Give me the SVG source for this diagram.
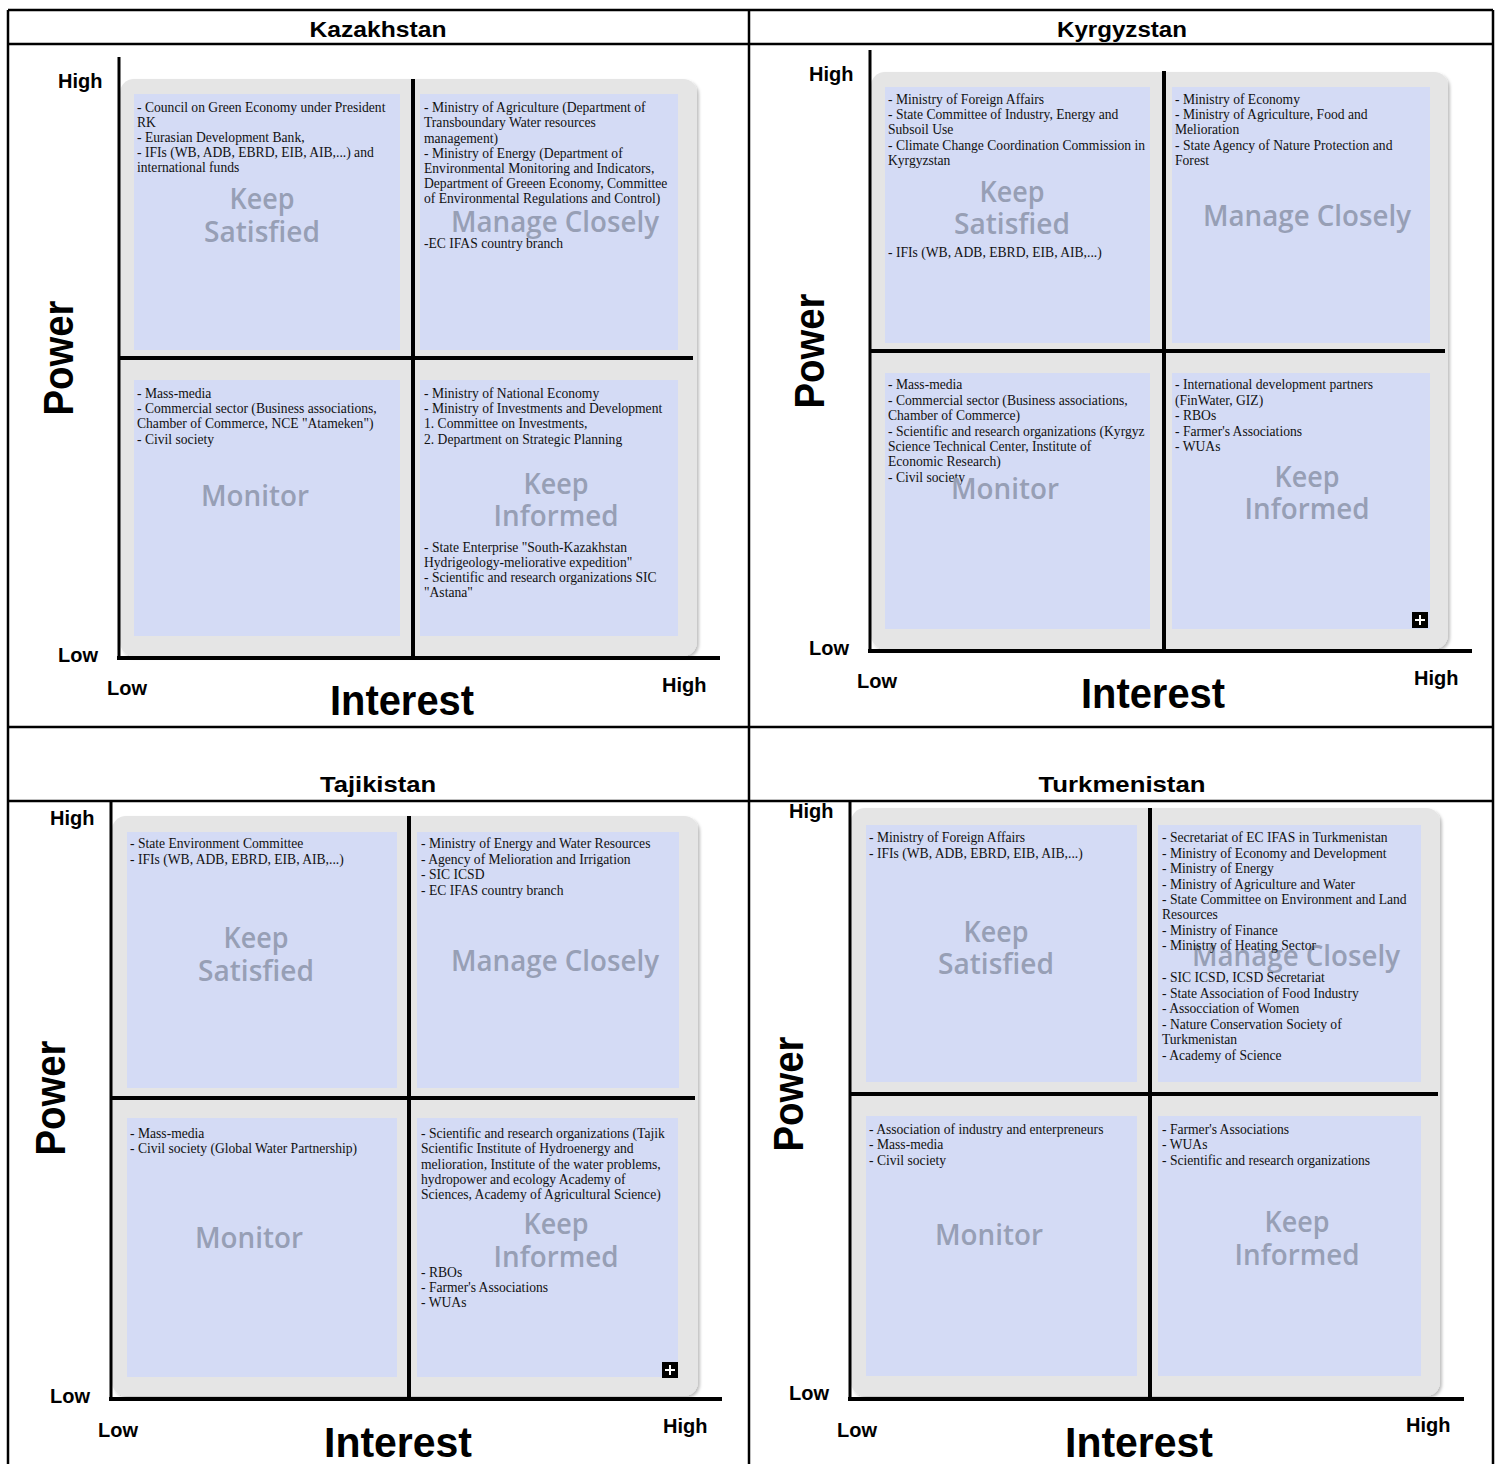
<svg xmlns="http://www.w3.org/2000/svg" width="1501" height="1464" viewBox="0 0 1501 1464">
<style>
.t{font-family:"Liberation Serif","Times New Roman",serif;font-size:13.6px;fill:#111}
.big{font-family:"Open Sans","Noto Sans",sans-serif;font-weight:600;font-size:29px;fill:#979fb5;text-anchor:middle}
.ax{font-family:"Liberation Sans",Arial,sans-serif;font-weight:bold;font-size:20px;fill:#000}
.axl{font-family:"Liberation Sans",Arial,sans-serif;font-weight:bold;font-size:42px;fill:#000;text-anchor:middle}
.ttl{font-family:"Liberation Sans",Arial,sans-serif;font-weight:bold;font-size:22px;fill:#000;text-anchor:middle}
.bg{fill:#e5e5e5}
.q{fill:#d4dbf5}
.ln{stroke:#000;stroke-width:4;fill:none}
.ya{stroke:#000;stroke-width:3;fill:none}
.tb{stroke:#000;stroke-width:2.5;fill:none}
</style>
<defs>
<filter id="sh" x="-5%" y="-5%" width="110%" height="110%"><feDropShadow dx="2" dy="2" stdDeviation="1.5" flood-color="#000" flood-opacity="0.25"/></filter>
<g id="plus"><rect width="16" height="16" fill="#000"/><path d="M8 3V13M3 8H13" stroke="#fff" stroke-width="2"/></g>
</defs>
<rect width="1501" height="1464" fill="#fff"/>
<g id="table">
<path class="tb" d="M8 10H1493M8 44H1493M8 727H1493M8 801H1493M8 10V1464M749 10V1464M1493 10V1464"/>
</g>
<!-- Kazakhstan -->
<g id="kazakhstan">
<text class="ttl" x="378" y="37" textLength="137" lengthAdjust="spacingAndGlyphs">Kazakhstan</text>
<rect class="bg" x="120" y="79" width="577" height="577" rx="14" filter="url(#sh)"/>
<g id="kz-tl"><rect class="q" x="134" y="94" width="266" height="256"/>
<text class="t" x="137" y="112">- Council on Green Economy under President</text>
<text class="t" x="137" y="127">RK</text>
<text class="t" x="137" y="142">- Eurasian Development Bank,</text>
<text class="t" x="137" y="157">- IFIs (WB, ADB, EBRD, EIB, AIB,...) and</text>
<text class="t" x="137" y="172">international funds</text>
<text class="big" x="262" y="209" textLength="65" lengthAdjust="spacingAndGlyphs">Keep</text>
<text class="big" x="262" y="242" textLength="116" lengthAdjust="spacingAndGlyphs">Satisfied</text></g>
<g id="kz-tr"><rect class="q" x="420" y="94" width="258" height="256"/>
<text class="t" x="424" y="112">- Ministry of Agriculture (Department of</text>
<text class="t" x="424" y="127">Transboundary Water resources</text>
<text class="t" x="424" y="143">management)</text>
<text class="t" x="424" y="158">- Ministry of Energy (Department of</text>
<text class="t" x="424" y="173">Environmental Monitoring and Indicators,</text>
<text class="t" x="424" y="188">Department of Greeen Economy, Committee</text>
<text class="t" x="424" y="203">of Environmental Regulations and Control)</text>
<text class="big" x="555" y="232" textLength="208" lengthAdjust="spacingAndGlyphs">Manage Closely</text>
<text class="t" x="424" y="248">-EC IFAS country branch</text></g>
<g id="kz-bl"><rect class="q" x="134" y="380" width="266" height="256"/>
<text class="t" x="137" y="398">- Mass-media</text>
<text class="t" x="137" y="413">- Commercial sector (Business associations,</text>
<text class="t" x="137" y="428">Chamber of Commerce, NCE "Atameken")</text>
<text class="t" x="137" y="444">- Civil society</text>
<text class="big" x="255" y="506" textLength="108" lengthAdjust="spacingAndGlyphs">Monitor</text></g>
<g id="kz-br"><rect class="q" x="420" y="380" width="258" height="256"/>
<text class="t" x="424" y="398">- Ministry of National Economy</text>
<text class="t" x="424" y="413">- Ministry of Investments and Development</text>
<text class="t" x="424" y="428">1. Committee on Investments,</text>
<text class="t" x="424" y="444">2. Department on Strategic Planning</text>
<text class="big" x="556" y="494" textLength="65" lengthAdjust="spacingAndGlyphs">Keep</text>
<text class="big" x="556" y="526" textLength="125" lengthAdjust="spacingAndGlyphs">Informed</text>
<text class="t" x="424" y="552">- State Enterprise "South-Kazakhstan</text>
<text class="t" x="424" y="567">Hydrigeology-meliorative expedition"</text>
<text class="t" x="424" y="582">- Scientific and research organizations SIC</text>
<text class="t" x="424" y="597">"Astana"</text></g>
<text class="ax" x="58" y="88">High</text>
<text class="ax" x="58" y="662">Low</text>
<text class="ax" x="107" y="695">Low</text>
<text class="ax" x="662" y="692">High</text>
<text class="axl" x="402" y="715" textLength="144" lengthAdjust="spacingAndGlyphs">Interest</text>
<text class="axl" transform="translate(73 358) rotate(-90)" textLength="115" lengthAdjust="spacingAndGlyphs">Power</text>
</g>
<!-- Kyrgyzstan -->
<g id="kyrgyzstan">
<text class="ttl" x="1122" y="37" textLength="130" lengthAdjust="spacingAndGlyphs">Kyrgyzstan</text>
<rect class="bg" x="871" y="72" width="577" height="577" rx="14" filter="url(#sh)"/>
<g id="kg-tl"><rect class="q" x="885" y="87" width="265" height="256"/>
<text class="t" x="888" y="104">- Ministry of Foreign Affairs</text>
<text class="t" x="888" y="119">- State Committee of Industry, Energy and</text>
<text class="t" x="888" y="134">Subsoil Use</text>
<text class="t" x="888" y="150">- Climate Change Coordination Commission in</text>
<text class="t" x="888" y="165">Kyrgyzstan</text>
<text class="big" x="1012" y="202" textLength="65" lengthAdjust="spacingAndGlyphs">Keep</text>
<text class="big" x="1012" y="234" textLength="116" lengthAdjust="spacingAndGlyphs">Satisfied</text>
<text class="t" x="888" y="257">- IFIs (WB, ADB, EBRD, EIB, AIB,...)</text></g>
<g id="kg-tr"><rect class="q" x="1172" y="87" width="258" height="256"/>
<text class="t" x="1175" y="104">- Ministry of Economy</text>
<text class="t" x="1175" y="119">- Ministry of Agriculture, Food and</text>
<text class="t" x="1175" y="134">Melioration</text>
<text class="t" x="1175" y="150">- State Agency of Nature Protection and</text>
<text class="t" x="1175" y="165">Forest</text>
<text class="big" x="1307" y="226" textLength="208" lengthAdjust="spacingAndGlyphs">Manage Closely</text></g>
<g id="kg-bl"><rect class="q" x="885" y="373" width="265" height="256"/>
<text class="t" x="888" y="389">- Mass-media</text>
<text class="t" x="888" y="405">- Commercial sector (Business associations,</text>
<text class="t" x="888" y="420">Chamber of Commerce)</text>
<text class="t" x="888" y="436">- Scientific and research organizations (Kyrgyz</text>
<text class="t" x="888" y="451">Science Technical Center, Institute of</text>
<text class="t" x="888" y="466">Economic Research)</text>
<text class="t" x="888" y="482">- Civil society</text>
<text class="big" x="1005" y="499" textLength="108" lengthAdjust="spacingAndGlyphs">Monitor</text></g>
<g id="kg-br"><rect class="q" x="1172" y="373" width="258" height="256"/>
<text class="t" x="1175" y="389">- International development partners</text>
<text class="t" x="1175" y="405">(FinWater, GIZ)</text>
<text class="t" x="1175" y="420">- RBOs</text>
<text class="t" x="1175" y="436">- Farmer's Associations</text>
<text class="t" x="1175" y="451">- WUAs</text>
<text class="big" x="1307" y="487" textLength="65" lengthAdjust="spacingAndGlyphs">Keep</text>
<text class="big" x="1307" y="519" textLength="125" lengthAdjust="spacingAndGlyphs">Informed</text>
<use href="#plus" x="1412" y="612"/></g>
<text class="ax" x="809" y="81">High</text>
<text class="ax" x="809" y="655">Low</text>
<text class="ax" x="857" y="688">Low</text>
<text class="ax" x="1414" y="685">High</text>
<text class="axl" x="1153" y="708" textLength="144" lengthAdjust="spacingAndGlyphs">Interest</text>
<text class="axl" transform="translate(824 351) rotate(-90)" textLength="115" lengthAdjust="spacingAndGlyphs">Power</text>
</g>
<!-- Tajikistan -->
<g id="tajikistan">
<text class="ttl" x="378" y="792" textLength="116" lengthAdjust="spacingAndGlyphs">Tajikistan</text>
<rect class="bg" x="112" y="816" width="586" height="580" rx="14" filter="url(#sh)"/>
<g id="tj-tl"><rect class="q" x="127" y="832" width="270" height="256"/>
<text class="t" x="130" y="848">- State Environment Committee</text>
<text class="t" x="130" y="864">- IFIs (WB, ADB, EBRD, EIB, AIB,...)</text>
<text class="big" x="256" y="948" textLength="65" lengthAdjust="spacingAndGlyphs">Keep</text>
<text class="big" x="256" y="981" textLength="116" lengthAdjust="spacingAndGlyphs">Satisfied</text></g>
<g id="tj-tr"><rect class="q" x="417" y="832" width="262" height="256"/>
<text class="t" x="421" y="848">- Ministry of Energy and Water Resources</text>
<text class="t" x="421" y="864">- Agency of Melioration and Irrigation</text>
<text class="t" x="421" y="879">- SIC ICSD</text>
<text class="t" x="421" y="895">- EC IFAS country branch</text>
<text class="big" x="555" y="971" textLength="208" lengthAdjust="spacingAndGlyphs">Manage Closely</text></g>
<g id="tj-bl"><rect class="q" x="127" y="1118" width="270" height="259"/>
<text class="t" x="130" y="1138">- Mass-media</text>
<text class="t" x="130" y="1153">- Civil society (Global Water Partnership)</text>
<text class="big" x="249" y="1248" textLength="108" lengthAdjust="spacingAndGlyphs">Monitor</text></g>
<g id="tj-br"><rect class="q" x="417" y="1118" width="261" height="259"/>
<text class="t" x="421" y="1138">- Scientific and research organizations (Tajik</text>
<text class="t" x="421" y="1153">Scientific Institute of Hydroenergy and</text>
<text class="t" x="421" y="1169">melioration, Institute of the water problems,</text>
<text class="t" x="421" y="1184">hydropower and ecology Academy of</text>
<text class="t" x="421" y="1199">Sciences, Academy of Agricultural Science)</text>
<text class="big" x="556" y="1234" textLength="65" lengthAdjust="spacingAndGlyphs">Keep</text>
<text class="big" x="556" y="1267" textLength="125" lengthAdjust="spacingAndGlyphs">Informed</text>
<text class="t" x="421" y="1277">- RBOs</text>
<text class="t" x="421" y="1292">- Farmer's Associations</text>
<text class="t" x="421" y="1307">- WUAs</text>
<use href="#plus" x="662" y="1362"/></g>
<text class="ax" x="50" y="825">High</text>
<text class="ax" x="50" y="1403">Low</text>
<text class="ax" x="98" y="1437">Low</text>
<text class="ax" x="663" y="1433">High</text>
<text class="axl" x="398" y="1457" textLength="148" lengthAdjust="spacingAndGlyphs">Interest</text>
<text class="axl" transform="translate(65 1098) rotate(-90)" textLength="115" lengthAdjust="spacingAndGlyphs">Power</text>
</g>
<!-- Turkmenistan -->
<g id="turkmenistan">
<text class="ttl" x="1122" y="792" textLength="167" lengthAdjust="spacingAndGlyphs">Turkmenistan</text>
<rect class="bg" x="851" y="808" width="589" height="588" rx="14" filter="url(#sh)"/>
<g id="tm-tl"><rect class="q" x="866" y="825" width="271" height="257"/>
<text class="t" x="869" y="842">- Ministry of Foreign Affairs</text>
<text class="t" x="869" y="858">- IFIs (WB, ADB, EBRD, EIB, AIB,...)</text>
<text class="big" x="996" y="942" textLength="65" lengthAdjust="spacingAndGlyphs">Keep</text>
<text class="big" x="996" y="974" textLength="116" lengthAdjust="spacingAndGlyphs">Satisfied</text></g>
<g id="tm-tr"><rect class="q" x="1158" y="825" width="263" height="257"/>
<text class="big" x="1296" y="966" textLength="208" lengthAdjust="spacingAndGlyphs">Manage Closely</text>
<text class="t" x="1162" y="842">- Secretariat of EC IFAS in Turkmenistan</text>
<text class="t" x="1162" y="858">- Ministry of Economy and Development</text>
<text class="t" x="1162" y="873">- Ministry of Energy</text>
<text class="t" x="1162" y="889">- Ministry of Agriculture and Water</text>
<text class="t" x="1162" y="904">- State Committee on Environment and Land</text>
<text class="t" x="1162" y="919">Resources</text>
<text class="t" x="1162" y="935">- Ministry of Finance</text>
<text class="t" x="1162" y="950">- Ministry of Heating Sector</text>
<text class="t" x="1162" y="982">- SIC ICSD, ICSD Secretariat</text>
<text class="t" x="1162" y="998">- State Association of Food Industry</text>
<text class="t" x="1162" y="1013">- Assocciation of Women</text>
<text class="t" x="1162" y="1029">- Nature Conservation Society of</text>
<text class="t" x="1162" y="1044">Turkmenistan</text>
<text class="t" x="1162" y="1060">- Academy of Science</text></g>
<g id="tm-bl"><rect class="q" x="866" y="1116" width="271" height="260"/>
<text class="t" x="869" y="1134">- Association of industry and enterpreneurs</text>
<text class="t" x="869" y="1149">- Mass-media</text>
<text class="t" x="869" y="1165">- Civil society</text>
<text class="big" x="989" y="1245" textLength="108" lengthAdjust="spacingAndGlyphs">Monitor</text></g>
<g id="tm-br"><rect class="q" x="1158" y="1116" width="263" height="260"/>
<text class="t" x="1162" y="1134">- Farmer's Associations</text>
<text class="t" x="1162" y="1149">- WUAs</text>
<text class="t" x="1162" y="1165">- Scientific and research organizations</text>
<text class="big" x="1297" y="1232" textLength="65" lengthAdjust="spacingAndGlyphs">Keep</text>
<text class="big" x="1297" y="1265" textLength="125" lengthAdjust="spacingAndGlyphs">Informed</text></g>
<text class="ax" x="789" y="818">High</text>
<text class="ax" x="789" y="1400">Low</text>
<text class="ax" x="837" y="1437">Low</text>
<text class="ax" x="1406" y="1432">High</text>
<text class="axl" x="1139" y="1457" textLength="148" lengthAdjust="spacingAndGlyphs">Interest</text>
<text class="axl" transform="translate(803 1094) rotate(-90)" textLength="115" lengthAdjust="spacingAndGlyphs">Power</text>
</g>
<g id="connectors">
<path class="ya" d="M119 57V660M870 50V653M111 802V1401M850 800V1401"/>
<path class="ln" d="M117 658H720M413 79V658M119 358H693"/>
<path class="ln" d="M868 651H1472M1164 71V651M870 351H1445"/>
<path class="ln" d="M109 1399H722M409 816V1399M111 1098H695"/>
<path class="ln" d="M848 1399H1464M1150 808V1399M850 1094H1438"/>
</g>
</svg>
